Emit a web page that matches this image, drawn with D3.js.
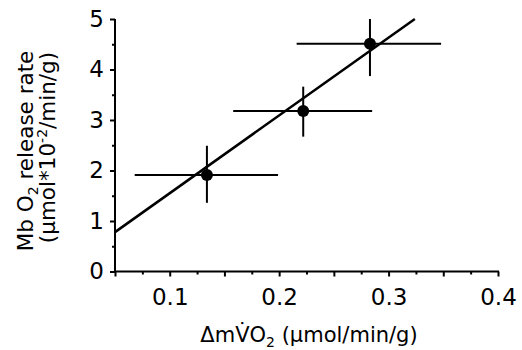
<!DOCTYPE html>
<html>
<head>
<meta charset="utf-8">
<script src="https://cdn.jsdelivr.net/npm/d3@7"></script>
<style>
  body { margin: 0; background: #fff; }
  text { font-family: "DejaVu Sans", Verdana, sans-serif; fill: #000; }
</style>
</head>
<body>
<div id="chart"></div>
<script>
// data
var xVals = [0.134, 0.222, 0.283];
var yVals = [1.91, 3.18, 4.51];
var xErrLow = [0.068, 0.158, 0.216];
var xErrHigh = [0.199, 0.285, 0.348];
var yErrLow = [1.36, 2.67, 3.87];
var yErrHigh = [2.49, 3.66, 5.0];
var fitX = [0.05, 0.324];
var fitY = [0.78, 5.0];
var xTickLabels = [0.1, 0.2, 0.3, 0.4];
var yTickLabels = [0, 1, 2, 3, 4, 5];

var svgWidth = 522;
var svgHeight = 350;

var margin = { top: 19, right: 24, bottom: 78.5, left: 115 };
var chartWidth = svgWidth - margin.left - margin.right;
var chartHeight = svgHeight - margin.top - margin.bottom;

var svg = d3.select("#chart")
  .append("svg")
  .attr("width", svgWidth)
  .attr("height", svgHeight);

var chartGroup = svg.append("g")
  .attr("transform", `translate(${margin.left},${margin.top})`);

var xScale = d3.scaleLinear().domain([0.05, 0.4]).range([0, chartWidth]);
var yScale = d3.scaleLinear().domain([0, 5]).range([chartHeight, 0]);

var points = xVals.map((x, i) => ({
  x: x, y: yVals[i],
  xl: xErrLow[i], xh: xErrHigh[i],
  yl: yErrLow[i], yh: yErrHigh[i]
}));

// x axis: minor ticks, major ticks, labels
var xMinor = d3.range(0.075, 0.4, 0.05);
var xMajor = d3.range(0.05, 0.401, 0.05);

var xAxisG = chartGroup.append("g")
  .attr("transform", `translate(0,${chartHeight})`);

xAxisG.append("g")
  .call(d3.axisBottom(xScale).tickValues(xMinor).tickSize(3).tickSizeOuter(0).tickFormat(""))
  .call(g => g.select(".domain").remove());

xAxisG.append("g")
  .call(d3.axisBottom(xScale).tickValues(xMajor).tickSize(5).tickSizeOuter(0).tickFormat(""))
  .call(g => g.select(".domain").remove());

xAxisG.append("g")
  .call(d3.axisBottom(xScale).tickValues(xTickLabels).tickSize(0).tickPadding(17)
    .tickFormat(d3.format(".1f")))
  .call(g => g.select(".domain").remove())
  .selectAll("text")
  .attr("font-size", "23px");

xAxisG.append("line")
  .attr("x1", xScale(0.05) - 1).attr("x2", xScale(0.4) + 1)
  .attr("stroke", "#000").attr("stroke-width", 2);

// y axis
var yMinor = d3.range(0.5, 5, 1);
var yAxisG = chartGroup.append("g");

yAxisG.append("g")
  .call(d3.axisLeft(yScale).tickValues(yMinor).tickSize(3).tickSizeOuter(0).tickFormat(""))
  .call(g => g.select(".domain").remove());

yAxisG.append("g")
  .call(d3.axisLeft(yScale).tickValues(yTickLabels).tickSize(5).tickPadding(6).tickFormat(d3.format("d")))
  .call(g => g.select(".domain").remove())
  .selectAll("text")
  .attr("font-size", "23px");

yAxisG.append("line")
  .attr("y1", yScale(5)).attr("y2", yScale(0) + 1)
  .attr("stroke", "#000").attr("stroke-width", 2);

chartGroup.selectAll(".tick line").attr("stroke", "#000").attr("stroke-width", 2);

// regression line
chartGroup.append("line")
  .attr("x1", xScale(fitX[0])).attr("y1", yScale(fitY[0]))
  .attr("x2", xScale(fitX[1])).attr("y2", yScale(fitY[1]))
  .attr("stroke", "#000").attr("stroke-width", 2.5);

// error bars
chartGroup.selectAll(".xerr")
  .data(points).enter().append("line")
  .attr("x1", d => xScale(d.xl)).attr("x2", d => xScale(d.xh))
  .attr("y1", d => yScale(d.y)).attr("y2", d => yScale(d.y))
  .attr("stroke", "#000").attr("stroke-width", 2);

chartGroup.selectAll(".yerr")
  .data(points).enter().append("line")
  .attr("x1", d => xScale(d.x)).attr("x2", d => xScale(d.x))
  .attr("y1", d => yScale(d.yl)).attr("y2", d => yScale(d.yh))
  .attr("stroke", "#000").attr("stroke-width", 2);

// points
chartGroup.selectAll("circle")
  .data(points).enter().append("circle")
  .attr("cx", d => xScale(d.x))
  .attr("cy", d => yScale(d.y))
  .attr("r", 6)
  .attr("fill", "#000");

// x axis title
var xTitle = svg.append("text")
  .attr("x", 309)
  .attr("y", 342)
  .attr("text-anchor", "middle")
  .attr("font-size", "21px");
xTitle.append("tspan").text("\u0394mV\u0307O");
xTitle.append("tspan").attr("font-size", "14px").attr("dy", 5).text("2");
xTitle.append("tspan").attr("dy", -5).text(" (\u00b5mol/min/g)");

// y axis title (two lines)
var yTitle1 = svg.append("text")
  .attr("transform", "translate(33,151) rotate(-90)")
  .attr("text-anchor", "middle")
  .attr("font-size", "21.5px");
yTitle1.append("tspan").text("Mb O");
yTitle1.append("tspan").attr("font-size", "14px").attr("dy", 5).text("2");
yTitle1.append("tspan").attr("dy", -5).text(" release rate");

var yTitle2 = svg.append("text")
  .attr("transform", "translate(55,147.5) rotate(-90)")
  .attr("text-anchor", "middle")
  .attr("font-size", "21.5px");
yTitle2.append("tspan").text("(\u00b5mol*10");
yTitle2.append("tspan").attr("font-size", "14px").attr("dy", -8).text("-2");
yTitle2.append("tspan").attr("dy", 8).text("/min/g)");
</script>
</body>
</html>
